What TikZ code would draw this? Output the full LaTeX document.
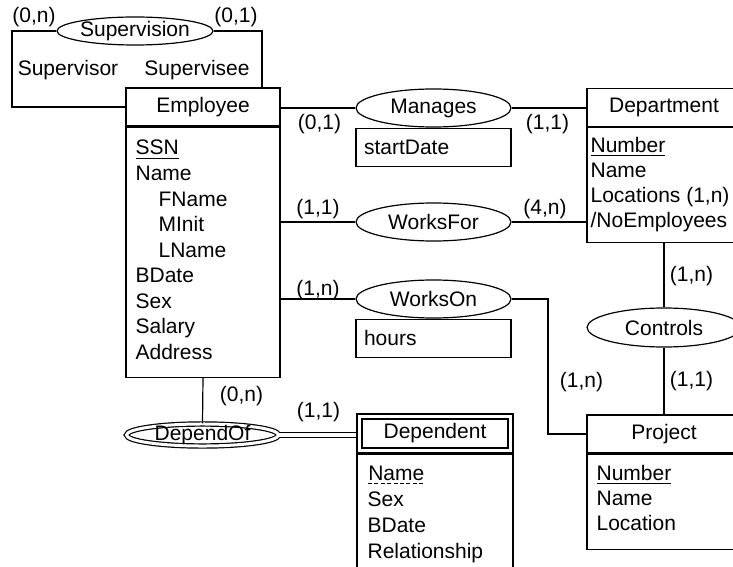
\documentclass[tikz,border=0pt]{standalone}
\usepackage{fontspec}
\setmainfont{Liberation Sans}
\usetikzlibrary{shapes.geometric}

\tikzset{
  entity/.style={draw, minimum width=77pt, minimum height=19pt, inner sep=0pt},
  attrbox/.style={draw, minimum width=77pt, inner sep=0pt, anchor=north},
  relation/.style={draw, ellipse, minimum width=77.5pt, minimum height=19pt, inner sep=0pt},
  relattr/.style={draw, anchor=north, text width=69.5pt, inner xsep=4pt, inner ysep=0pt, minimum height=19pt, align=left},
  attr/.style={anchor=base west, inner sep=0pt},
  card/.style={inner sep=0pt},
  role/.style={inner sep=0pt}
}
% dashed underline for a partial key
\newcommand{\partkey}[1]{\tikz[baseline=(pk.base)]{\node[inner sep=0pt] (pk) {#1};
    \draw[dash pattern=on 2pt off 1.2pt, line width=0.5pt] ([yshift=-1.6pt]pk.base west) -- ([yshift=-1.6pt]pk.base east);}}

\begin{document}
\begin{tikzpicture}[x=0.5pt, y=-0.5pt, line width=0.6pt, font=\fontsize{10.5pt}{12.75pt}\selectfont]
    \useasboundingbox (0,0) rectangle (733,567);
    \clip (0,0) rectangle (733,567);

    % Entities
    \node[entity] (emp) at (203,107) {Employee};
    \node[attrbox, minimum height=125pt] (empBox) at (emp.south) {};
    \node[entity] (dept) at (664,107.5) {Department};
    \node[attrbox, minimum height=57.5pt] (deptBox) at (dept.south) {};
    \node[entity] (proj) at (664,434) {Project};
    \node[attrbox, minimum height=47.5pt] (projBox) at (proj.south) {};
    \node[entity, minimum width=78pt, minimum height=19.5pt] (dep) at (435,433.5) {};
    \node[entity, minimum width=73pt, minimum height=14.5pt] (depName) at (dep) {Dependent};
    \node[attrbox, minimum width=78pt, minimum height=64pt] (depBox) at (dep.south) {};

    % Attributes
    \foreach \t/\dx [count=\i from 0] in {{\underline{SSN}}/0, Name/0, FName/23, MInit/23, LName/23, BDate/0, Sex/0, Salary/0, Address/0} {
        \node[attr] (emp-\i) at (135+\dx,155+25.5*\i) {\t};
      }
    \foreach \t [count=\i from 0] in {{\underline{Number}}, Name, {Locations (1,n)}, {/NoEmployees}} {
        \node[attr] (dept-\i) at (590,152+25*\i) {\t};
      }
    \foreach \t [count=\i from 0] in {{\underline{Number}}, Name, Location} {
        \node[attr] (proj-\i) at (596,480+25*\i) {\t};
      }
    \foreach \t [count=\i from 0] in {{\partkey{Name}}, Sex, BDate, Relationship} {
        \node[attr] (dep-\i) at (367,480+26*\i) {\t};
      }

    % Relationships
    \node[relation, minimum width=78pt, minimum height=14pt] (sup) at (135,31) {Supervision};
    \node[relation] (manages) at (433.5,108) {Manages};
    \node[relattr] (startDate) at (manages.south) {startDate};
    \node[relation] (worksFor) at (433.5,222) {WorksFor};
    \node[relation] (worksOn) at (433.5,299) {WorksOn};
    \node[relattr] (hours) at (worksOn.south) {hours};
    \node[relation, minimum width=77pt, minimum height=19.5pt] (controls) at (664,327.5) {Controls};
    \node[relation, double, double distance=1.5pt, inner ysep=-1pt, minimum width=76pt, minimum height=11pt] (dependOf) at (202.5,435) {DependOf};

    % Cardinalities
    \node[card] (cSupL) at (34,17) {(0,n)};
    \node[card] (cSupR) at (236,17) {(0,1)};
    \node[card] (cManE) at (319.5,124) {(0,1)};
    \node[card] (cManD) at (547.5,124) {(1,1)};
    \node[card] (cForE) at (318,209) {(1,1)};
    \node[card] (cForD) at (545,209) {(4,n)};
    \node[card] (cOnE) at (318,290) {(1,n)};
    \node[card] (cOnP) at (581.5,382) {(1,n)};
    \node[card] (cCtrlD) at (691.5,276) {(1,n)};
    \node[card] (cCtrlP) at (691.5,381) {(1,1)};
    \node[card] (cDepE) at (241.5,396) {(0,n)};
    \node[card] (cDepD) at (318.5,412) {(1,1)};

    % Roles
    \node[role] (supervisor) at (68,70) {Supervisor};
    \node[role] (supervisee) at (197,70) {Supervisee};

    % Connectors
    \coordinate (supL) at (12,0);
    \coordinate (supR) at (262,0);
    \coordinate (wonX) at (548,0);
    \draw (sup.west) -- (sup.west -| supL) |- (emp.west);
    \draw (sup.east) -| (supR |- emp.north);
    \draw (emp.east |- manages.west) -- (manages.west);
    \draw (manages.east) -- (manages.east -| dept.west);
    \draw (empBox.east |- worksFor.west) -- (worksFor.west);
    \draw (worksFor.east) -- (worksFor.east -| deptBox.west);
    \draw (empBox.east |- worksOn.west) -- (worksOn.west);
    \draw (worksOn.east) -- (worksOn.east -| wonX) |- (proj.west);
    \draw (deptBox.south) -- (controls.north);
    \draw (controls.south) -- (proj.north);
    \draw (empBox.south) -- (dependOf.north);
    \draw[double, double distance=2pt] (dependOf.east) -- (dependOf.east -| dep.west);
  \end{tikzpicture}
\end{document}
